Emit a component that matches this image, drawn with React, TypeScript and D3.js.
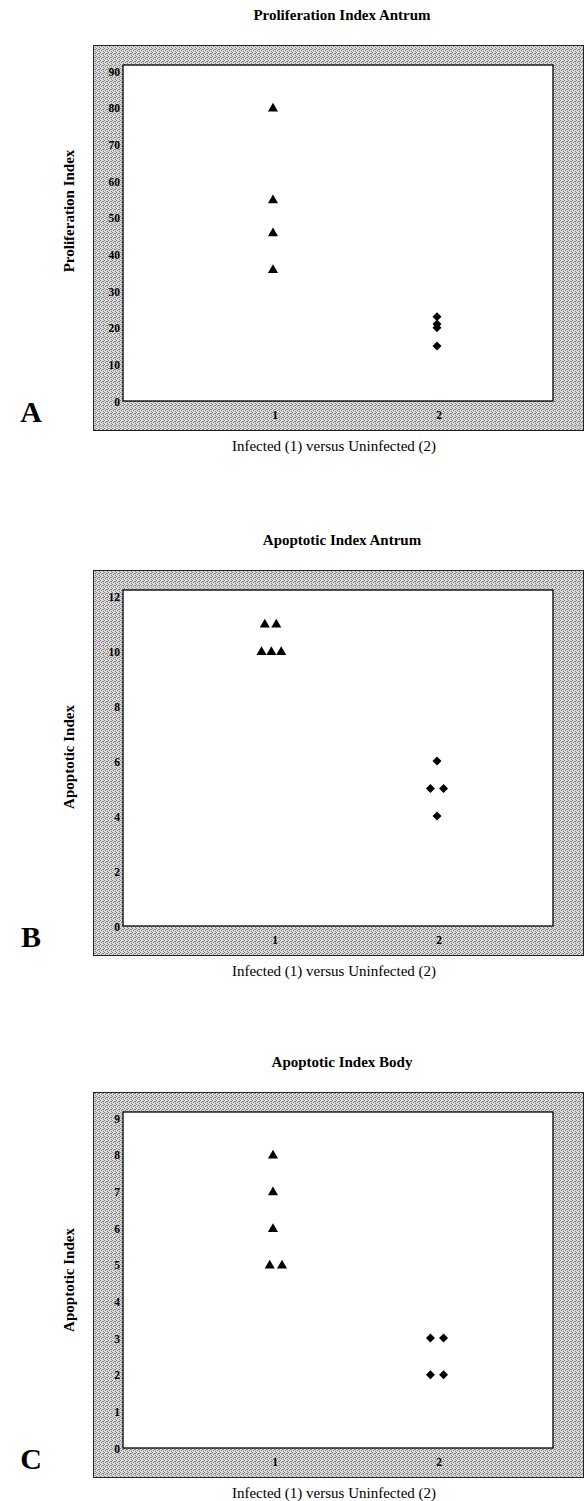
import React, { useEffect, useRef } from "react";
import * as d3 from "d3";

// panel texts
const panelLetters = ["A", "B", "C"];
const chartTitles = ["Proliferation Index Antrum", "Apoptotic Index Antrum", "Apoptotic Index Body"];
const yAxisTitles = ["Proliferation Index", "Apoptotic Index", "Apoptotic Index"];
const xAxisTitle = "Infected (1) versus Uninfected (2)";
const xTickValues = [1, 2];

// y tick labels
const yTicksA = [0, 10, 20, 30, 40, 50, 60, 70, 80, 90];
const yTicksB = [0, 2, 4, 6, 8, 10, 12];
const yTicksC = [0, 1, 2, 3, 4, 5, 6, 7, 8, 9];

// A: proliferation index antrum
const infectedAx = [1, 1, 1, 1];
const infectedAy = [80, 55, 46, 36];
const uninfectedAx = [2, 2, 2, 2];
const uninfectedAy = [23, 21, 20, 15];

// B: apoptotic index antrum
const infectedBx = [0.95, 1.02, 0.93, 0.99, 1.05];
const infectedBy = [11, 11, 10, 10, 10];
const uninfectedBx = [2, 1.96, 2.04, 2];
const uninfectedBy = [6, 5, 5, 4];

// C: apoptotic index body
const infectedCx = [1, 1, 1, 0.98, 1.055];
const infectedCy = [8, 7, 6, 5, 5];
const uninfectedCx = [1.96, 2.04, 1.96, 2.04];
const uninfectedCy = [3, 3, 2, 2];

const yTicks = [yTicksA, yTicksB, yTicksC];
const infected = [[infectedAx, infectedAy], [infectedBx, infectedBy], [infectedCx, infectedCy]];
const uninfected = [[uninfectedAx, uninfectedAy], [uninfectedBx, uninfectedBy], [uninfectedCx, uninfectedCy]];

// layout
const frameTops = [45, 570, 1092];
const yTitleCenters = [211, 757, 1280];
const serif = "'Liberation Serif', 'Times New Roman', serif";

export default function App() {
    const ref = useRef<SVGSVGElement>(null);

    useEffect(() => {
        const svg = d3.select(ref.current);
        svg.selectAll("*").remove();

        // dithered grey of the frame
        const pat = svg.append("defs").append("pattern")
            .attr("id", "dither")
            .attr("width", 4)
            .attr("height", 4)
            .attr("patternUnits", "userSpaceOnUse");
        pat.append("rect").attr("width", 4).attr("height", 4).attr("fill", "#dadada");
        [[0, 0], [2, 1], [1, 2], [3, 3], [3, 1]].forEach(([px, py]) => {
            pat.append("rect").attr("x", px).attr("y", py).attr("width", 1).attr("height", 1).attr("fill", "#808080");
        });

        const xScale = d3.scaleLinear().domain([1, 2]).range([273, 437]);

        const triangle = d3.symbol().type(d3.symbolTriangle).size(44);
        const diamond = d3.symbol().type(d3.symbolSquare).size(40);

        frameTops.forEach((top, i) => {
            const g = svg.append("g").attr("font-family", serif);
            const ticks = yTicks[i];
            const yScale = d3.scaleLinear()
                .domain([0, d3.max(ticks) as number])
                .range([top + 356, top + 26]);

            // outer grey frame
            g.append("rect")
                .attr("x", 93.5)
                .attr("y", top + 0.5)
                .attr("width", 490)
                .attr("height", 385)
                .attr("fill", "url(#dither)")
                .attr("stroke", "#222")
                .attr("stroke-width", 1);

            // plot area
            g.append("rect")
                .attr("x", 123)
                .attr("y", top + 20)
                .attr("width", 430)
                .attr("height", 336)
                .attr("fill", "#fff")
                .attr("stroke", "#000")
                .attr("stroke-width", 1.3);

            // y tick labels
            g.selectAll("text.ytick")
                .data(ticks)
                .enter()
                .append("text")
                .attr("class", "ytick")
                .attr("x", 120)
                .attr("y", (d) => yScale(d) + 2)
                .attr("text-anchor", "end")
                .attr("dominant-baseline", "middle")
                .attr("font-size", 11.5)
                .attr("font-weight", "bold")
                .text((d) => d);

            // x tick labels
            g.selectAll("text.xtick")
                .data(xTickValues)
                .enter()
                .append("text")
                .attr("class", "xtick")
                .attr("x", (d) => xScale(d) + 2)
                .attr("y", top + 371)
                .attr("text-anchor", "middle")
                .attr("dominant-baseline", "middle")
                .attr("font-size", 11.5)
                .attr("font-weight", "bold")
                .text((d) => d);

            // chart title
            g.append("text")
                .attr("x", 342)
                .attr("y", top - 28)
                .attr("text-anchor", "middle")
                .attr("dominant-baseline", "middle")
                .attr("font-size", 15)
                .attr("font-weight", "bold")
                .text(chartTitles[i]);

            // y axis title
            g.append("text")
                .attr("transform", "translate(71," + yTitleCenters[i] + ") rotate(-90)")
                .attr("text-anchor", "middle")
                .attr("dominant-baseline", "middle")
                .attr("font-size", 15)
                .attr("font-weight", "bold")
                .text(yAxisTitles[i]);

            // x axis title
            g.append("text")
                .attr("x", 334)
                .attr("y", top + 403)
                .attr("text-anchor", "middle")
                .attr("dominant-baseline", "middle")
                .attr("font-size", 15)
                .text(xAxisTitle);

            // panel letter
            g.append("text")
                .attr("x", 31)
                .attr("y", top + 370)
                .attr("text-anchor", "middle")
                .attr("dominant-baseline", "middle")
                .attr("font-size", 30)
                .attr("font-weight", "bold")
                .text(panelLetters[i]);

            // infected = triangles
            const [ix, iy] = infected[i];
            g.selectAll("path.inf")
                .data(ix.map((x, k) => ({x: x, y: iy[k]})))
                .enter()
                .append("path")
                .attr("class", "inf")
                .attr("d", triangle)
                .attr("transform", (d) => "translate(" + xScale(d.x) + "," + (yScale(d.y) + 1) + ")")
                .attr("fill", "#000");

            // uninfected = diamonds
            const [ux, uy] = uninfected[i];
            g.selectAll("path.uninf")
                .data(ux.map((x, k) => ({x: x, y: uy[k]})))
                .enter()
                .append("path")
                .attr("class", "uninf")
                .attr("d", diamond)
                .attr("transform", (d) => "translate(" + xScale(d.x) + "," + yScale(d.y) + ") rotate(45)")
                .attr("fill", "#000");
        });
    }, []);

    return (
        <svg
            ref={ref}
            width={584}
            height={1501}
            style={{position: "absolute", left: 0, top: 0, background: "#fff"}}
        />
    );
}
